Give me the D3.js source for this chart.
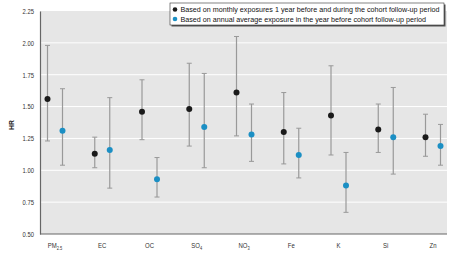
<!DOCTYPE html>
<html>
<head>
<meta charset="utf-8">
<script src="https://cdn.jsdelivr.net/npm/d3@7"></script>
<style>
  body { margin: 0; background: #fff; }
  svg { display: block; font-family: "Liberation Sans", Arial, sans-serif; }
</style>
</head>
<body>
<script>
const categories = ['PM2.5', 'EC', 'OC', 'SO4', 'NO3', 'Fe', 'K', 'Si', 'Zn'];
const labelMain = ['PM', 'EC', 'OC', 'SO', 'NO', 'Fe', 'K', 'Si', 'Zn'];
const labelSub = ['2.5', '', '', '4', '3', '', '', '', ''];

// monthly exposures (black)
const monthlyHR = [1.56, 1.13, 1.46, 1.48, 1.61, 1.30, 1.43, 1.32, 1.26];
const monthlyLo = [1.23, 1.02, 1.24, 1.19, 1.27, 1.05, 1.12, 1.14, 1.11];
const monthlyHi = [1.98, 1.26, 1.71, 1.84, 2.05, 1.61, 1.82, 1.52, 1.44];

// annual average exposure (blue)
const annualHR = [1.31, 1.16, 0.93, 1.34, 1.28, 1.12, 0.88, 1.26, 1.19];
const annualLo = [1.04, 0.86, 0.79, 1.02, 1.07, 0.94, 0.67, 0.97, 1.04];
const annualHi = [1.64, 1.57, 1.10, 1.76, 1.52, 1.33, 1.14, 1.65, 1.36];

const yTicks = [0.50, 0.75, 1.00, 1.25, 1.50, 1.75, 2.00, 2.25];
const legendLabels = [
  'Based on monthly exposures 1 year before and during the cohort follow-up period',
  'Based on annual average exposure in the year before cohort follow-up period'
];
const colors = ['#1a1a1a', '#1b8fc4'];

const width = 453, height = 254;
const plot = { left: 40, right: 447, top: 11, bottom: 234 };

// squeeze text horizontally to look like the condensed face of the original
function condense(sel, k) {
  sel.each(function () {
    const w = this.getComputedTextLength();
    d3.select(this)
      .attr('textLength', w * k)
      .attr('lengthAdjust', 'spacingAndGlyphs');
  });
}

const svg = d3.select('body').append('svg')
  .attr('width', width)
  .attr('height', height);

const x = d3.scalePoint()
  .domain(categories)
  .range([55, 433]);

const y = d3.scaleLinear()
  .domain([0.5, 2.25])
  .range([plot.bottom, plot.top]);

// background
svg.append('rect')
  .attr('x', plot.left)
  .attr('y', plot.top)
  .attr('width', plot.right - plot.left)
  .attr('height', plot.bottom - plot.top)
  .attr('fill', '#e6e6e6');

// grid
svg.append('g')
  .selectAll('line')
  .data(yTicks.slice(1, -1))
  .enter().append('line')
  .attr('x1', plot.left)
  .attr('x2', plot.right)
  .attr('y1', d => y(d))
  .attr('y2', d => y(d))
  .attr('stroke', '#fff')
  .attr('stroke-width', 1);

// y axis
const yAxis = svg.append('g')
  .attr('transform', `translate(${plot.left},0)`)
  .call(d3.axisLeft(y).tickValues(yTicks).tickFormat(d3.format('.2f')).tickSize(0).tickPadding(6));
yAxis.select('.domain').attr('stroke', '#666').attr('stroke-width', 1.2);
yAxis.selectAll('text')
  .attr('font-size', 7.5)
  .attr('fill', '#333')
  .attr('font-family', null)
  .call(condense, 0.78);

// x axis line
svg.append('line')
  .attr('x1', plot.left)
  .attr('x2', plot.right)
  .attr('y1', plot.bottom)
  .attr('y2', plot.bottom)
  .attr('stroke', '#666')
  .attr('stroke-width', 1.2);

// x labels (one text per category, subscript as a tspan, squeezed with a scale)
const xl = svg.append('g')
  .selectAll('g')
  .data(categories)
  .enter().append('g')
  .attr('transform', d => `translate(${x(d)},247.5) scale(0.8,1)`)
  .append('text')
  .attr('text-anchor', 'middle')
  .attr('font-size', 7.5)
  .attr('fill', '#333');
xl.append('tspan').text((d, i) => labelMain[i]);
xl.append('tspan')
  .attr('font-size', 5)
  .attr('dy', 2)
  .text((d, i) => labelSub[i]);

// HR label
svg.append('text')
  .attr('transform', 'translate(14,125) rotate(-90)')
  .attr('text-anchor', 'middle')
  .attr('font-size', 8)
  .attr('font-weight', 'bold')
  .attr('fill', '#222')
  .text('HR')
  .call(condense, 0.85);

// series
const series = [
  { hr: monthlyHR, lo: monthlyLo, hi: monthlyHi, dx: -7.5, color: colors[0] },
  { hr: annualHR, lo: annualLo, hi: annualHi, dx: 7.5, color: colors[1] }
];

series.forEach(s => {
  const g = svg.append('g');
  const items = g.selectAll('g')
    .data(categories)
    .enter().append('g')
    .attr('transform', d => `translate(${x(d) + s.dx},0)`);

  items.append('line')
    .attr('y1', (d, i) => y(s.lo[i]))
    .attr('y2', (d, i) => y(s.hi[i]))
    .attr('stroke', '#999')
    .attr('stroke-width', 1.2);

  ['lo', 'hi'].forEach(k => {
    items.append('line')
      .attr('x1', -2.5)
      .attr('x2', 2.5)
      .attr('y1', (d, i) => y(s[k][i]))
      .attr('y2', (d, i) => y(s[k][i]))
      .attr('stroke', '#999')
      .attr('stroke-width', 1);
  });

  items.append('circle')
    .attr('cy', (d, i) => y(s.hr[i]))
    .attr('r', 3)
    .attr('fill', s.color);
});

// legend
const lg = svg.append('g').attr('transform', 'translate(170,3)');
lg.append('rect')
  .attr('x', 1.5).attr('y', 1.5)
  .attr('width', 274).attr('height', 22)
  .attr('fill', '#555');
lg.append('rect')
  .attr('width', 274).attr('height', 22)
  .attr('fill', '#fff')
  .attr('stroke', '#333')
  .attr('stroke-width', 0.6);

const li = lg.selectAll('g.item')
  .data(legendLabels)
  .enter().append('g')
  .attr('class', 'item')
  .attr('transform', (d, i) => `translate(5,${6.5 + i * 9.5})`);
li.append('circle')
  .attr('r', 2.3)
  .attr('fill', (d, i) => colors[i]);
const lt = li.append('text')
  .attr('x', 5.5)
  .attr('dy', '0.35em')
  .attr('font-size', 7.4)
  .attr('fill', '#111')
  .text(d => d);
const k0 = 259 / lt.node().getComputedTextLength();
lt.call(condense, k0);
</script>
</body>
</html>
